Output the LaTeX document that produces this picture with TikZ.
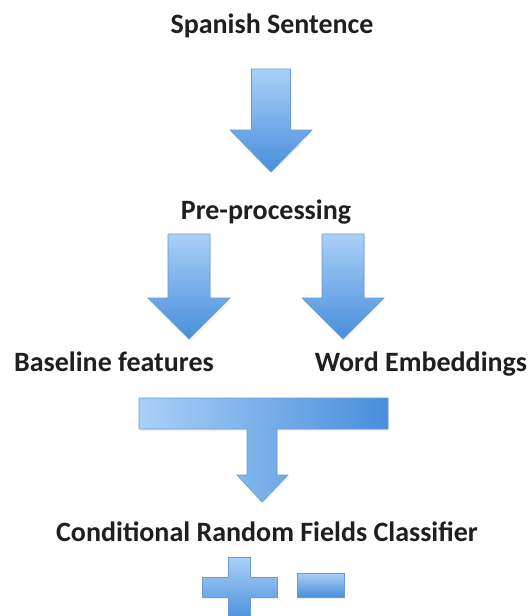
\documentclass[tikz,border=0pt]{standalone}
\usepackage{fontspec}
\setmainfont{Carlito}
\usetikzlibrary{shadows}
\definecolor{blight}{RGB}{170,208,247}
\definecolor{bdark}{RGB}{72,142,220}
\definecolor{bedge}{RGB}{105,155,212}
\tikzset{
  lbl/.style={font=\bfseries\fontsize{28}{30}\selectfont, anchor=base, inner sep=0pt, text=black!88},
  blockv/.style={draw=bedge, line width=0.6pt, top color=blight, bottom color=bdark,
    drop shadow={opacity=0.12, shadow xshift=1pt, shadow yshift=-2pt}},
  blockh/.style={draw=bedge, line width=0.6pt, left color=blight, right color=bdark,
    drop shadow={opacity=0.12, shadow xshift=1pt, shadow yshift=-2pt}}
}
\newcommand{\blockdown}[6]{%
  \path[blockv] (#1-#3,#2) -- (#1+#3,#2) -- (#1+#3,#4) -- (#1+#5,#4) -- (#1,#6) -- (#1-#5,#4) -- (#1-#3,#4) -- cycle;}
\begin{document}
\begin{tikzpicture}[x=1pt,y=-1pt]
\useasboundingbox (0,0) rectangle (531,616);
\fill[white] (0,0) rectangle (531,616);

% labels
\node[lbl] (sent) at (272,33) {Spanish Sentence};
\node[lbl] (pre) at (266,219) {Pre-processing};
\node[lbl] (base) at (114,371) {Baseline features};
\node[lbl] (emb) at (421,371) {Word Embeddings};
\node[lbl] (crf) at (267,541) {Conditional Random Fields Classifier};

% block arrows
\blockdown{271}{69}{19.5}{130}{41}{172}
\blockdown{189}{234}{21}{298}{41}{339}
\blockdown{343}{234}{21}{298}{41}{339}

% T-shaped merge arrow
\path[blockh] (139,398) -- (388,398) -- (388,429) -- (277,429) -- (277,475) -- (288,475)
  -- (262,502) -- (237,475) -- (247,475) -- (247,429) -- (139,429) -- cycle;

% plus and minus
\begin{scope}
\clip (0,0) rectangle (531,616);
\path[blockv] (228,557) -- (250,557) -- (250,577) -- (277,577) -- (277,597) -- (250,597)
  -- (250,622) -- (228,622) -- (228,597) -- (202,597) -- (202,577) -- (228,577) -- cycle;
\end{scope}
\path[blockv] (297,573) rectangle (344,597);
\end{tikzpicture}
\end{document}
